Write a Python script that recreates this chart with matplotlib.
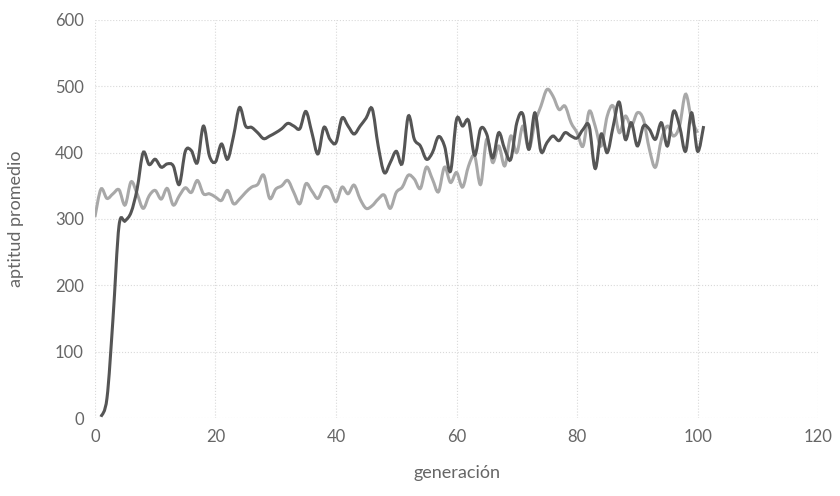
import numpy as np
import matplotlib.pyplot as plt
from matplotlib.path import Path
from matplotlib.patches import PathPatch

# generaciones
gen_dark = np.arange(1, 102)
gen_light = np.arange(0, 101)

# aptitud promedio, serie oscura (gen 1..101)
apt_dark = [2, 30, 150, 290, 297, 310, 345, 400, 382, 390,
            378, 383, 380, 352, 402, 403, 385, 440, 395, 386,
            413, 390, 425, 468, 440, 438, 430, 421, 425, 430,
            436, 444, 440, 436, 462, 430, 398, 438, 420, 415,
            452, 440, 428, 440, 452, 466, 410, 370, 385, 402,
            384, 455, 420, 410, 390, 400, 424, 410, 372, 450,
            440, 448, 396, 436, 428, 392, 430, 405, 390, 445,
            458, 405, 460, 402, 415, 425, 418, 430, 425, 422,
            435, 440, 376, 428, 400, 440, 476, 420, 445, 410,
            440, 435, 420, 445, 410, 462, 440, 402, 460, 402,
            440]

# aptitud promedio, serie clara (gen 0..100)
apt_light = [303, 345, 331, 338, 344, 321, 356, 338, 316, 335,
             343, 330, 346, 321, 335, 347, 340, 358, 338, 338,
             333, 328, 343, 323, 330, 340, 348, 352, 366, 331,
             345, 350, 358, 340, 323, 353, 342, 331, 348, 345,
             326, 348, 338, 351, 330, 316, 320, 330, 336, 316,
             340, 348, 366, 360, 346, 378, 360, 341, 378, 355,
             370, 348, 380, 395, 352, 420, 385, 410, 380, 425,
             400, 440, 405, 445, 470, 495, 485, 465, 470, 445,
             430, 410, 462, 440, 410, 455, 470, 430, 455, 440,
             460, 450, 405, 378, 420, 440, 425, 440, 488, 450,
             430]

xticks = [0, 20, 40, 60, 80, 100, 120]
yticks = [0, 100, 200, 300, 400, 500, 600]


def smooth_path(x, y):
    # bezier through the points, like excel's "smoothed line"
    p = np.column_stack([x, y]).astype(float)
    p = np.vstack([p[0], p, p[-1]])
    verts = [p[1]]
    codes = [Path.MOVETO]
    for i in range(1, len(p) - 2):
        c1 = p[i] + (p[i + 1] - p[i - 1]) / 6
        c2 = p[i + 1] - (p[i + 2] - p[i]) / 6
        verts += [c1, c2, p[i + 1]]
        codes += [Path.CURVE4] * 3
    return Path(verts, codes)


plt.rcParams['font.family'] = ['Lato', 'DejaVu Sans']

fig = plt.figure(figsize=(8.4, 4.96), dpi=100)
ax = fig.add_axes([0.113, 0.157, 0.861, 0.803])

ax.add_patch(PathPatch(smooth_path(gen_light, apt_light), fill=False,
                       edgecolor='#a8a8a8', lw=2.2, zorder=3))
ax.add_patch(PathPatch(smooth_path(gen_dark, apt_dark), fill=False,
                       edgecolor='#555555', lw=2.2, zorder=4))

ax.set_xlim(0, 120)
ax.set_ylim(0, 600)
ax.set_xticks(xticks)
ax.set_yticks(yticks)
ax.grid(True, color='#d9d9d9', linestyle=':', linewidth=0.8)
for s in ax.spines.values():
    s.set_visible(False)
ax.tick_params(length=0, labelsize=12, labelcolor='#666666', pad=8)

ax.set_xlabel('generación', fontsize=13, color='#666666', labelpad=14)
ax.set_ylabel('aptitud promedio', fontsize=13, color='#666666', labelpad=22)

fig.savefig('out.png', dpi=100)
